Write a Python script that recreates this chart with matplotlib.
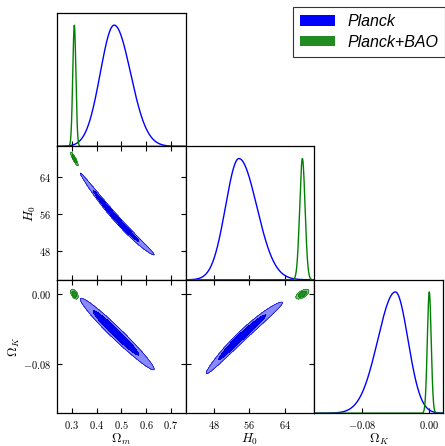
import numpy as np
import matplotlib
matplotlib.use("Agg")
import matplotlib.pyplot as plt
from matplotlib.patches import Patch

# ---------------- data ----------------
param_labels = [r"$\Omega_m$", r"$H_0$", r"$\Omega_K$"]
axis_limits = [(0.24, 0.76), (41.7, 70.6), (-0.137, 0.0165)]
tick_values = [[0.3, 0.4, 0.5, 0.6, 0.7], [48, 56, 64], [-0.08, 0.00]]
tick_labels = [[r"$0.3$", r"$0.4$", r"$0.5$", r"$0.6$", r"$0.7$"],
               [r"$48$", r"$56$", r"$64$"],
               [r"$-0.08$", r"$0.00$"]]

series_names = ["Planck", "Planck+BAO"]

# Planck 1D posteriors (peak, lower width, upper width) for Om, H0, OK
planck_peak = [0.471, 53.65, -0.0404]
planck_sig_lo = [0.056, 3.0, 0.021]
planck_sig_hi = [0.066, 4.0, 0.015]

# Planck 2D degeneracy ridges: y = c0 + c1*(x-pivot) + c2*(x-pivot)^2, width
ridge_Om_H0 = [0.5, 53.8, -57.3, 53.7, 0.40]
ridge_Om_OK = [0.5, -0.0505, -0.269, 0.0, 0.0037]
ridge_H0_OK = [56.0, -0.0404, 0.004582, -6.39e-5, 0.0031]

# Planck+BAO posteriors (mean, sigma) for Om, H0, OK and correlations
bao_mean = [0.310, 67.9, 0.000]
bao_sigma = [0.0063, 0.60, 0.0023]
bao_corr_Om_H0 = -0.90
bao_corr_Om_OK = -0.50
bao_corr_H0_OK = 0.60

contour_mass = [0.95, 0.68]

# ---------------- styling ----------------
plt.rcParams["mathtext.fontset"] = "cm"
plt.rcParams["font.family"] = ["DejaVu Serif"]

blue_line = "#0000ff"
green_line = "#008000"
blue_fills = ["#8a8aff", "#0000f0"]
green_fills = ["#7cc27c", "#1f8f1f"]
blue_edge = "#0000c8"
green_edge = "#117a11"


def split_normal(x, mu, slo, shi):
    s = np.where(x < mu, slo, shi)
    return np.exp(-0.5 * ((x - mu) / s) ** 2)


def gauss(x, mu, s):
    return np.exp(-0.5 * ((x - mu) / s) ** 2)


def mass_levels(Z, masses):
    z = np.sort(Z.ravel())[::-1]
    c = np.cumsum(z)
    c /= c[-1]
    return [z[np.searchsorted(c, m)] for m in masses]


def ridge_density(X, Y, k, ridge):
    piv, c0, c1, c2, w = ridge
    d = X - piv
    yc = c0 + c1 * d + c2 * d ** 2
    return split_normal(X, planck_peak[k], planck_sig_lo[k], planck_sig_hi[k]) * gauss(Y, yc, w)


def bao_density(X, Y, i, j, rho):
    u = (X - bao_mean[i]) / bao_sigma[i]
    v = (Y - bao_mean[j]) / bao_sigma[j]
    q = (u ** 2 - 2 * rho * u * v + v ** 2) / (1 - rho ** 2)
    return np.exp(-0.5 * q)


def draw_contours(ax, X, Y, Z, fills, edge):
    lv = mass_levels(Z, contour_mass)
    top = Z.max() * 1.01
    ax.contourf(X, Y, Z, levels=[lv[0], lv[1], top], colors=fills)
    ax.contour(X, Y, Z, levels=[lv[0], lv[1]], colors=[edge], linewidths=0.5)


fig = plt.figure(figsize=(4.45, 4.46), dpi=100)
W, H = 445.0, 446.0
x0, y0, cw, rh = 57.0, 13.0, 128.7, 133.4


def make_ax(i, j):
    return fig.add_axes([(x0 + j * cw) / W, 1 - (y0 + (i + 1) * rh) / H, cw / W, rh / H])


axes = {}
for i in range(3):
    for j in range(i + 1):
        ax = make_ax(i, j)
        axes[(i, j)] = ax
        ax.set_xlim(axis_limits[j])
        ax.set_xticks(tick_values[j])
        for s in ax.spines.values():
            s.set_linewidth(0.9)
        if i == j:
            ax.set_ylim(0, 1.1)
            ax.set_yticks([])
            ax.tick_params(axis="x", direction="in", length=3.5, width=0.8,
                           labelsize=7.5, pad=4.5, top=False)
        else:
            ax.set_ylim(axis_limits[i])
            ax.set_yticks(tick_values[i])
            ax.tick_params(direction="in", length=3.5, width=0.8, labelsize=7.5,
                           pad=4.5, top=True, right=True)
        if i == 2:
            ax.set_xticklabels(tick_labels[j])
            ax.set_xlabel(param_labels[j], fontsize=9.5, labelpad=0.5)
        else:
            ax.set_xticklabels([])
        if j == 0 and i > 0:
            ax.set_yticklabels(tick_labels[i])
            ax.set_ylabel(param_labels[i], fontsize=9.5, labelpad=0.5)
        elif i != j:
            ax.set_yticklabels([])

# 1D marginals
for k in range(3):
    ax = axes[(k, k)]
    x = np.linspace(axis_limits[k][0], axis_limits[k][1], 800)
    ax.plot(x, split_normal(x, planck_peak[k], planck_sig_lo[k], planck_sig_hi[k]),
            color=blue_line, lw=1.0)
    ax.plot(x, gauss(x, bao_mean[k], bao_sigma[k]), color=green_line, lw=1.0)

# 2D panels
N = 600
pairs = [((1, 0), 0, 1, ridge_Om_H0, bao_corr_Om_H0),
         ((2, 0), 0, 2, ridge_Om_OK, bao_corr_Om_OK),
         ((2, 1), 1, 2, ridge_H0_OK, bao_corr_H0_OK)]
for key, px, py, ridge, rho in pairs:
    ax = axes[key]
    xs = np.linspace(axis_limits[px][0], axis_limits[px][1], N)
    ys = np.linspace(axis_limits[py][0], axis_limits[py][1], N)
    X, Y = np.meshgrid(xs, ys)
    Zp = ridge_density(X, Y, px, ridge)
    draw_contours(ax, X, Y, Zp, blue_fills, blue_edge)
    Zb = bao_density(X, Y, px, py, rho)
    draw_contours(ax, X, Y, Zb, green_fills, green_edge)

# legend
handles = [Patch(facecolor="#0000ff", edgecolor="none"),
           Patch(facecolor="#228b22", edgecolor="none")]
leg = fig.legend(handles, series_names, loc="upper left",
                 bbox_to_anchor=(293 / W, 1 - 7 / H), bbox_transform=fig.transFigure,
                 borderaxespad=0, fancybox=False, frameon=True, handlelength=2.2,
                 handleheight=0.6, labelspacing=0.35, borderpad=0.45, handletextpad=0.75,
                 prop={"family": "Liberation Sans", "style": "italic", "size": 11.5})
leg.get_frame().set_edgecolor("black")
leg.get_frame().set_linewidth(0.8)

fig.savefig("out.png", dpi=100)
